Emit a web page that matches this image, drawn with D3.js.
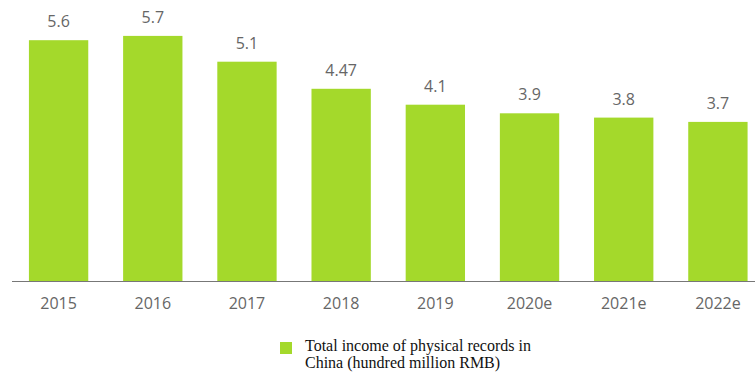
<!DOCTYPE html>
<html>
<head>
<meta charset="utf-8">
<script src="https://cdn.jsdelivr.net/npm/d3@7"></script>
<style>
  body { margin: 0; background: #fff; }
  svg { display: block; }
</style>
</head>
<body>
<svg id="chart" width="755" height="372"></svg>
<script>
const years = ["2015", "2016", "2017", "2018", "2019", "2020e", "2021e", "2022e"];
const incomes = [5.6, 5.7, 5.1, 4.47, 4.1, 3.9, 3.8, 3.7];
const legendLines = ["Total income of physical records in", "China (hundred million RMB)"];

const svg = d3.select("#chart");
const width = 755;
const baseY = 281;

const x = d3.scaleBand()
  .domain(years)
  .range([11.5, 765])
  .paddingInner(0.37)
  .paddingOuter(0.185);

const y = d3.scaleLinear()
  .domain([0, 6.5])
  .range([baseY, baseY - 6.5 * 43]);

const data = years.map((year, i) => ({ year, value: incomes[i] }));

svg.append("g")
  .selectAll("rect")
  .data(data)
  .join("rect")
  .attr("x", d => x(d.year))
  .attr("y", d => y(d.value))
  .attr("width", x.bandwidth())
  .attr("height", d => baseY - y(d.value))
  .attr("fill", "#a4d92b");

svg.append("g")
  .selectAll("text")
  .data(data)
  .join("text")
  .attr("x", d => x(d.year) + x.bandwidth() / 2)
  .attr("y", d => y(d.value) - 13)
  .attr("text-anchor", "middle")
  .style("font-family", "'Open Sans', sans-serif")
  .style("font-size", "16px")
  .style("fill", "#666")
  .text(d => d.value);

// axis
const axis = svg.append("g")
  .attr("transform", `translate(0,${baseY})`)
  .call(d3.axisBottom(x).tickSize(0).tickPadding(17));
axis.select(".domain").remove();
axis.selectAll("text")
  .style("font-family", "'Open Sans', sans-serif")
  .style("font-size", "16px")
  .style("fill", "#666");

svg.append("line")
  .attr("x1", 12)
  .attr("x2", width)
  .attr("y1", baseY + 0.5)
  .attr("y2", baseY + 0.5)
  .attr("stroke", "#777")
  .attr("stroke-width", 1);

// legend
svg.append("rect")
  .attr("x", 280)
  .attr("y", 342)
  .attr("width", 12)
  .attr("height", 12)
  .attr("fill", "#a4d92b");

svg.append("g")
  .selectAll("text")
  .data(legendLines)
  .join("text")
  .attr("x", 305)
  .attr("y", (d, i) => 351 + i * 17)
  .style("font-family", "'Liberation Serif', 'Times New Roman', serif")
  .style("font-size", "16px")
  .style("fill", "#111")
  .text(d => d);
</script>
</body>
</html>
